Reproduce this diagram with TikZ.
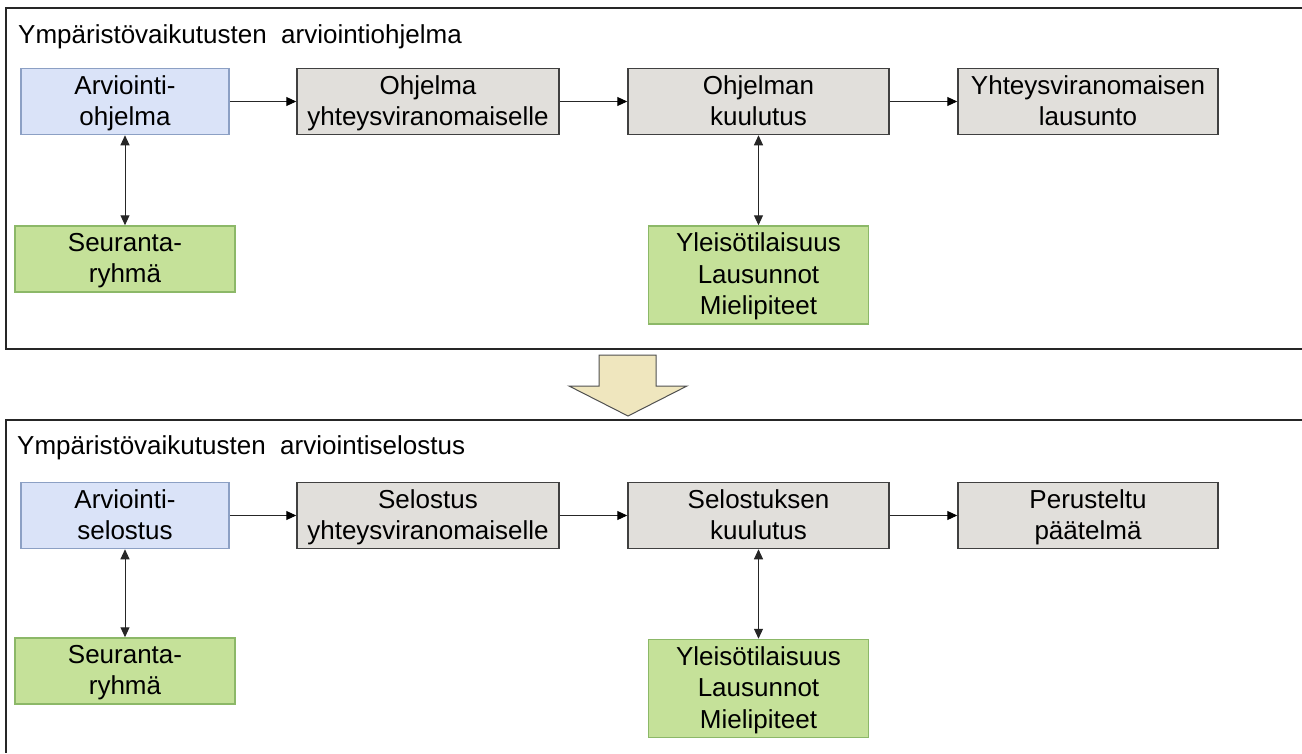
\documentclass[tikz,border=0pt]{standalone}
\usepackage{fontspec}
\setmainfont{Liberation Sans}
\usetikzlibrary{arrows.meta}

\definecolor{bluefill}{RGB}{218,227,248}
\definecolor{blueline}{RGB}{140,160,196}
\definecolor{grayfill}{RGB}{225,223,219}
\definecolor{grayline}{RGB}{64,64,64}
\definecolor{greenfill}{RGB}{197,225,153}
\definecolor{greenline}{RGB}{140,184,104}
\definecolor{arrowfill}{RGB}{239,230,190}
\definecolor{arrowline}{RGB}{80,80,80}

\begin{document}
\begin{tikzpicture}[x=1pt,y=-1pt,
  box/.style={draw, line width=1.5pt, align=center, inner sep=0pt, text depth=2pt,
    font=\fontsize{26}{31.5}\selectfont, minimum height=66pt},
  planbox/.style={box, fill=bluefill, draw=blueline, minimum width=208pt},
  stagebox/.style={box, fill=grayfill, draw=grayline, minimum width=261pt},
  partbox/.style={box, fill=greenfill, draw=greenline, minimum width=220pt},
  flow/.style={-{Triangle[length=10pt,width=9pt,color=black]}, line width=1pt, draw=black!85},
  link/.style={{Triangle[length=10pt,width=9pt]}-{Triangle[length=10pt,width=9pt]}, line width=1pt, draw=black!85},
  frame/.style={line width=2pt, draw=black!85},
  heading/.style={anchor=base west, font=\fontsize{26}{30}\selectfont, inner sep=0pt}
]
\useasboundingbox (0,0) rectangle (1302,753);

% section frames (open on the right and at the bottom)
\draw[frame] (1302,8) -- (6,8) -- (6,349) -- (1302,349);
\draw[frame] (1302,420) -- (6,420) -- (6,753);

% headings
\node[heading] (head1) at (18,43) {Ympäristövaikutusten\ \ arviointiohjelma};
\node[heading] (head2) at (17,454) {Ympäristövaikutusten\ \ arviointiselostus};

% transition arrow between the two phases
\draw[fill=arrowfill, draw=arrowline, line width=1pt]
  (599,355) -- (656,355) -- (656,386) -- (687,386) -- (628,416)
  -- (569,386) -- (599,386) -- cycle;

% programme phase
\node[planbox] (plan1) at (125,101.5) {Arviointi-\\ohjelma};
\node[stagebox, minimum width=262pt] (send1) at (428,101.5) {Ohjelma\\yhteysviranomaiselle};
\node[stagebox] (notice1) at (758.5,101.5) {Ohjelman\\kuulutus};
\node[stagebox, minimum width=260pt] (stmt1) at (1088,101.5) {Yhteysviranomaisen\\lausunto};
\node[partbox] (group1) at (125,259) {Seuranta-\\ryhmä};
\node[partbox, minimum height=98pt] (public1) at (758.5,275) {Yleisötilaisuus\\Lausunnot\\Mielipiteet};

\draw[flow] (plan1.east) -- (send1.west);
\draw[flow] (send1.east) -- (notice1.west);
\draw[flow] (notice1.east) -- (stmt1.west);
\draw[link] (plan1.south) -- (group1.north);
\draw[link] (notice1.south) -- (public1.north);

% report phase
\node[planbox] (plan2) at (125,515.5) {Arviointi-\\selostus};
\node[stagebox, minimum width=262pt] (send2) at (428,515.5) {Selostus\\yhteysviranomaiselle};
\node[stagebox] (notice2) at (758.5,515.5) {Selostuksen\\kuulutus};
\node[stagebox, minimum width=260pt] (stmt2) at (1088,515.5) {Perusteltu\\päätelmä};
\node[partbox] (group2) at (125,671) {Seuranta-\\ryhmä};
\node[partbox, minimum height=98pt] (public2) at (758.5,688.5) {Yleisötilaisuus\\Lausunnot\\Mielipiteet};

\draw[flow] (plan2.east) -- (send2.west);
\draw[flow] (send2.east) -- (notice2.west);
\draw[flow] (notice2.east) -- (stmt2.west);
\draw[link] (plan2.south) -- (group2.north);
\draw[link] (notice2.south) -- (public2.north);
\end{tikzpicture}
\end{document}
